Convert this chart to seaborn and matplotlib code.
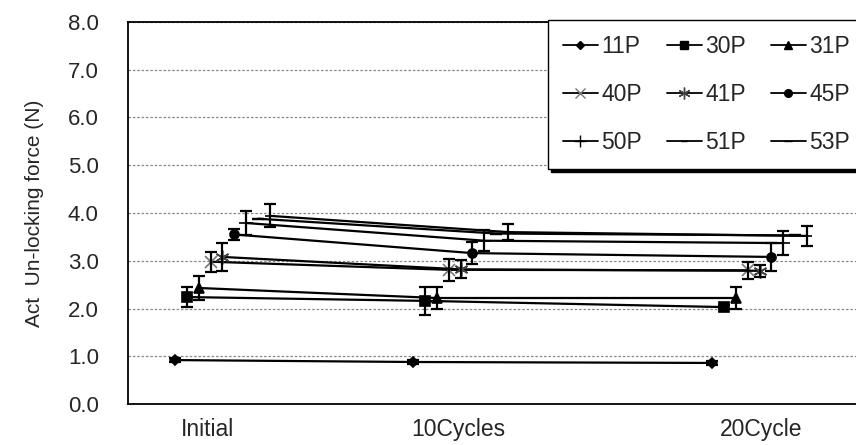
import matplotlib
matplotlib.use("Agg")
import matplotlib.pyplot as plt
import seaborn as sns
import numpy as np
import pandas as pd
from matplotlib.lines import Line2D

# ---- data ----
categories = ["Initial", "10Cycles", "20Cycle"]
series = ["11P", "30P", "31P", "40P", "41P", "45P", "50P", "51P", "53P"]
v_11P = [0.92, 0.88, 0.86]
v_30P = [2.24, 2.16, 2.03]
v_31P = [2.43, 2.22, 2.22]
v_40P = [2.98, 2.81, 2.80]
v_41P = [3.08, 2.82, 2.79]
v_45P = [3.55, 3.16, 3.08]
v_50P = [3.79, 3.42, 3.37]
v_51P = [3.88, 3.57, 3.53]
v_53P = [3.94, 3.60, 3.52]
e_11P = [0.05, 0.05, 0.04]
e_30P = [0.20, 0.29, 0.05]
e_31P = [0.25, 0.24, 0.22]
e_40P = [0.21, 0.23, 0.18]
e_41P = [0.30, 0.19, 0.13]
e_45P = [0.11, 0.23, 0.30]
e_50P = [0.25, 0.22, 0.25]
e_51P = [0.00, 0.00, 0.00]
e_53P = [0.24, 0.16, 0.21]
yticks = [0.0, 1.0, 2.0, 3.0, 4.0, 5.0, 6.0, 7.0, 8.0]

values = [v_11P, v_30P, v_31P, v_40P, v_41P, v_45P, v_50P, v_51P, v_53P]
errors = [e_11P, e_30P, e_31P, e_40P, e_41P, e_45P, e_50P, e_51P, e_53P]

# ---- layout / style ----
cat_pos = [0.0, 1.0, 2.256]          # group base positions
step = 0.05                           # per-series dodge
label_pos = [0.139, 1.189, 2.462]     # category label positions
markers = ["D", "s", "^", "x", (6, 2, 0), "o", "+", "_", "_"]
msizes = [5, 6.5, 6.5, 9, 10, 6.5, 10, 5, 7]
mcolors = ["black", "black", "black", "#777777", "#444444", "black", "black", "black", "black"]

sns.set_theme(style="white")
plt.rcParams["font.family"] = ["Liberation Sans", "DejaVu Sans"]

fig = plt.figure(figsize=(8.56, 4.45), dpi=100)
ax = fig.add_axes([0.1495, 0.0921, 0.8505, 0.8585])

rows = []
for i, (s, v, e) in enumerate(zip(series, values, errors)):
    for j, c in enumerate(categories):
        rows.append(dict(series=s, x=cat_pos[j] + i * step, y=v[j], err=e[j]))
df = pd.DataFrame(rows)

for i, s in enumerate(series):
    d = df[df.series == s]
    sns.lineplot(data=d, x="x", y="y", ax=ax, color="black", linewidth=1.6,
                 marker=markers[i], markersize=msizes[i], markeredgecolor=mcolors[i],
                 markerfacecolor=mcolors[i], markeredgewidth=1.2, legend=False, zorder=3)
    ax.errorbar(d["x"], d["y"], yerr=d["err"], fmt="none", ecolor="black",
                elinewidth=1.6, capsize=4.5, capthick=1.6, zorder=4)

ax.set_xlim(-0.197, 2.861)
ax.set_ylim(0, 8)
ax.set_yticks(yticks)
ax.set_yticklabels([f"{t:.1f}" for t in yticks], fontsize=16)
ax.set_xticks(label_pos)
ax.set_xticklabels(categories, fontsize=16.5)
ax.tick_params(axis="both", length=0)
ax.tick_params(axis="x", pad=10)
ax.tick_params(axis="y", pad=21)
ax.set_xlabel("")
ax.set_ylabel("Act  Un-locking force (N)", fontsize=15, labelpad=17)

for t in yticks[1:]:
    ax.axhline(t, color="#888888", linestyle=(0, (2, 1.5)), linewidth=0.9, zorder=1)

for side in ["left", "bottom", "top"]:
    ax.spines[side].set_color("black")
    ax.spines[side].set_linewidth(1.3)
ax.spines["right"].set_visible(False)

handles = []
for i, s in enumerate(series):
    handles.append(Line2D([], [], color="black", linewidth=1.3, marker=markers[i],
                          markersize=msizes[i] * 0.85, markeredgecolor=mcolors[i],
                          markerfacecolor=mcolors[i], label=s))
order = [0, 3, 6, 1, 4, 7, 2, 5, 8]
leg = fig.legend([handles[k] for k in order], [series[k] for k in order],
                 loc="upper left", bbox_to_anchor=(0.640, 0.955), ncol=3,
                 fontsize=16.5, frameon=True, fancybox=False,
                 shadow={"color": "black", "alpha": 1.0},
                 handlelength=1.53, handletextpad=0.13, columnspacing=1.1,
                 labelspacing=1.08, borderpad=0.66, borderaxespad=0.0)
leg.get_frame().set_edgecolor("black")
leg.get_frame().set_linewidth(1.0)

fig.savefig("out.png", dpi=100)
